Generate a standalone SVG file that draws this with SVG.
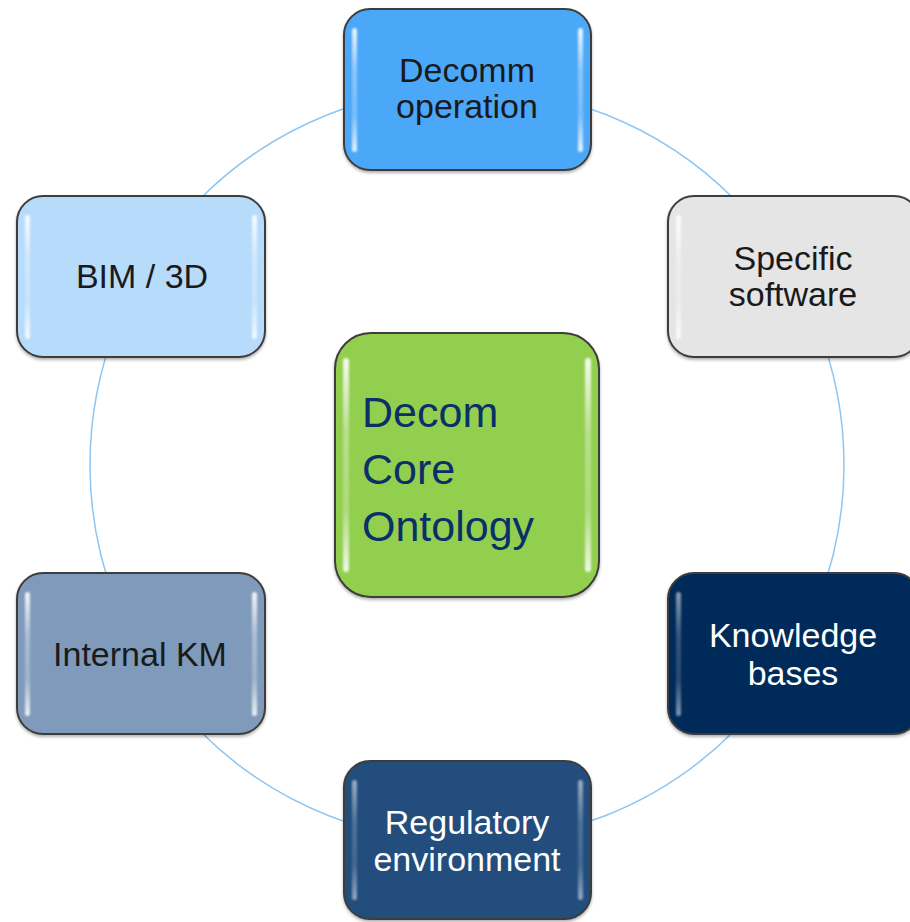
<svg xmlns="http://www.w3.org/2000/svg" width="910" height="922" viewBox="0 0 910 922">
<style>
.box{stroke:#3c3c3c;stroke-width:2}
.t{font-family:"Liberation Sans",Arial,sans-serif;font-size:34px;text-anchor:middle}
.dark{fill:#1a1a1a}
.light{fill:#ffffff}
.core{font-family:"Liberation Sans",Arial,sans-serif;font-size:43px;fill:#0b3068}
.gl{fill:url(#glv);filter:url(#bl)}
.conn{fill:none;stroke:#8cc6f4;stroke-width:1.5}
</style>
<defs>
<linearGradient id="glv" x1="0" y1="0" x2="0" y2="1">
<stop offset="0" stop-color="#fff" stop-opacity="0.9"/>
<stop offset="0.35" stop-color="#fff" stop-opacity="0.35"/>
<stop offset="0.7" stop-color="#fff" stop-opacity="0.25"/>
<stop offset="1" stop-color="#fff" stop-opacity="0.85"/>
</linearGradient>
<filter id="bl" x="-100%" y="-10%" width="300%" height="120%">
<feGaussianBlur stdDeviation="0.8"/>
</filter>
<filter id="sh" x="-10%" y="-10%" width="120%" height="125%">
<feDropShadow dx="0" dy="2" stdDeviation="1.5" flood-color="#000" flood-opacity="0.3"/>
</filter>
</defs>
<rect width="910" height="922" fill="#ffffff"/>
<g id="connectors">
<circle class="conn" cx="467" cy="465" r="377"/>
</g>
<g id="decomm-operation">
<rect class="box" x="344" y="9" width="247" height="161" rx="26" fill="#4ba7f8" filter="url(#sh)"/>
<rect class="gl" x="352" y="28" width="5" height="124" rx="2.5"/>
<rect class="gl" x="578" y="28" width="5" height="124" rx="2.5"/>
<text class="t dark" x="467" y="82">Decomm</text>
<text class="t dark" x="467" y="118">operation</text>
</g>
<g id="specific-software">
<rect class="box" x="668" y="196" width="252" height="161" rx="26" fill="#e5e5e5" filter="url(#sh)"/>
<rect class="gl" x="676" y="215" width="5" height="124" rx="2.5"/>
<text class="t dark" x="793" y="270">Specific</text>
<text class="t dark" x="793" y="306">software</text>
</g>
<g id="bim-3d">
<rect class="box" x="17" y="196" width="248" height="161" rx="26" fill="#b7dbfb" filter="url(#sh)"/>
<rect class="gl" x="25" y="215" width="5" height="124" rx="2.5"/>
<rect class="gl" x="252" y="215" width="5" height="124" rx="2.5"/>
<text class="t dark" x="142" y="288">BIM / 3D</text>
</g>
<g id="decom-core-ontology">
<rect class="box" x="335" y="333" width="264" height="264" rx="36" fill="#92cf4f" filter="url(#sh)"/>
<rect class="gl" x="343" y="358" width="6" height="214" rx="3"/>
<rect class="gl" x="585" y="358" width="6" height="214" rx="3"/>
<text class="core" x="362" y="427">Decom</text>
<text class="core" x="362" y="484">Core</text>
<text class="core" x="362" y="541">Ontology</text>
</g>
<g id="knowledge-bases">
<rect class="box" x="668" y="573" width="252" height="161" rx="26" fill="#022a5a" filter="url(#sh)"/>
<rect class="gl" x="676" y="592" width="5" height="124" rx="2.5" opacity="0.6"/>
<text class="t light" x="793" y="647">Knowledge</text>
<text class="t light" x="793" y="685">bases</text>
</g>
<g id="internal-km">
<rect class="box" x="17" y="573" width="248" height="161" rx="26" fill="#7f9aba" filter="url(#sh)"/>
<rect class="gl" x="25" y="592" width="5" height="124" rx="2.5"/>
<rect class="gl" x="252" y="592" width="5" height="124" rx="2.5"/>
<text class="t dark" x="140" y="666">Internal KM</text>
</g>
<g id="regulatory-environment">
<rect class="box" x="344" y="761" width="247" height="158" rx="26" fill="#234e7d" filter="url(#sh)"/>
<rect class="gl" x="352" y="780" width="5" height="120" rx="2.5" opacity="0.6"/>
<rect class="gl" x="578" y="780" width="5" height="120" rx="2.5" opacity="0.6"/>
<text class="t light" x="467" y="834">Regulatory</text>
<text class="t light" x="467" y="871">environment</text>
</g>
</svg>
